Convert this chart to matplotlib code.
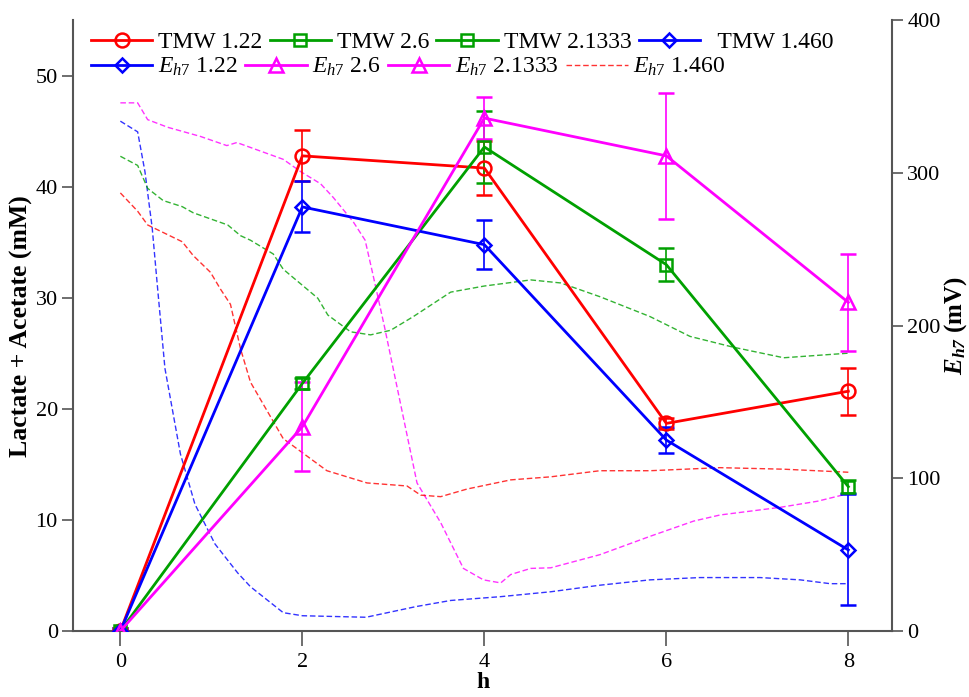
import matplotlib
matplotlib.use("Agg")
import matplotlib.pyplot as plt
from matplotlib.lines import Line2D

plt.rcParams["font.family"] = ["Liberation Serif", "DejaVu Serif"]
plt.rcParams["mathtext.fontset"] = "custom"
plt.rcParams["mathtext.rm"] = "Liberation Serif"
plt.rcParams["mathtext.it"] = "Liberation Serif:italic"
plt.rcParams["mathtext.bf"] = "Liberation Serif:bold"
plt.rcParams["mathtext.bfit"] = "Liberation Serif:italic:bold"

# sampling times (h)
hours = [0, 2, 4, 6, 8]

# lactate + acetate (mM) with error bars
red_vals = [0, 42.8, 41.7, 18.7, 21.6]
red_err = [0.3, 2.3, 2.4, 0.5, 2.1]
green_vals = [0, 22.3, 43.6, 33.0, 13.0]
green_err = [0.3, 0.5, 3.2, 1.5, 0.6]
blue_vals = [0, 38.2, 34.8, 17.2, 7.3]
blue_err = [0.3, 2.3, 2.2, 1.2, 5.0]
magenta_vals = [0, 18.4, 46.2, 42.8, 29.6]
magenta_err = [0.3, 4.0, 1.9, 5.7, 4.4]

# Eh7 (mV) continuous traces
mag_h = [0, 0.19, 0.30, 0.52, 0.88, 1.17, 1.28, 1.79, 1.98, 2.20, 2.34,
         2.56, 2.69, 2.77, 2.90, 3.04, 3.26, 3.52, 3.77, 3.99, 4.18, 4.29,
         4.51, 4.73, 5.27, 5.82, 6.30, 6.59, 7.25, 7.66, 8.0]
mag_mv = [346, 346, 335, 330, 324, 318, 320, 309, 301, 293, 284,
          268, 256, 235, 200, 160, 97, 71, 41, 33.5, 31.5, 37,
          41, 41.4, 50, 62, 72, 76, 81, 85, 90]
blue_h = [0, 0.19, 0.27, 0.35, 0.41, 0.49, 0.66, 0.82, 1.04, 1.29, 1.43,
          1.79, 2.0, 2.7, 3.25, 3.63, 4.18, 4.73, 5.27, 5.82, 6.37, 7.03,
          7.47, 7.8, 8.0]
blue_mv = [334, 327, 301, 264, 224, 172, 116, 83, 57, 38, 29,
           12, 10, 9, 16, 20, 22.5, 25.7, 30, 33.5, 35, 35,
           33.5, 31, 31]
green_h = [0, 0.19, 0.30, 0.47, 0.68, 0.80, 1.18, 1.32, 1.43, 1.68, 1.79,
           2.17, 2.28, 2.53, 2.75, 2.97, 3.22, 3.63, 4.0, 4.51, 4.84, 5.27,
           5.82, 6.26, 6.73, 7.29, 8.0]
green_mv = [311, 305, 290, 282, 278, 274, 266, 259, 256, 247, 237,
            218, 207, 196, 194, 197, 206, 222, 226, 230, 228, 219,
            206, 193, 186, 179, 182]
red_h = [0, 0.19, 0.30, 0.68, 0.80, 0.99, 1.10, 1.21, 1.32, 1.43, 1.79,
         2.27, 2.71, 3.15, 3.30, 3.52, 3.81, 4.29, 4.73, 5.27, 5.82, 6.59,
         7.29, 8.0]
red_mv = [287, 275, 266, 255, 246, 235, 224, 214, 185, 163, 126,
          105, 97, 95, 89, 88, 93, 99, 101, 105, 105, 107,
          106, 104]

row1_labels = ["TMW 1.22", "TMW 2.6", "TMW 2.1333", "  TMW 1.460"]
row2_labels = ["$E_{h7}$ 1.22", "$E_{h7}$ 2.6", "$E_{h7}$ 2.1333",
               "$E_{h7}$ 1.460"]

RED, GREEN, BLUE, MAG = "#ff0000", "#00a000", "#0000ff", "#ff00ff"
spine_col = "#555555"
dash = (0, (4, 2))

fig = plt.figure(figsize=(9.7, 6.97), dpi=100)
ax = fig.add_axes([0.0753, 0.0947, 0.8443, 0.876])
ax2 = ax.twinx()

for h, mv, c in [(mag_h, mag_mv, MAG), (blue_h, blue_mv, BLUE),
                 (green_h, green_mv, GREEN), (red_h, red_mv, RED)]:
    ax2.plot(h, mv, color=c, lw=1.0, linestyle=dash, alpha=0.8)

marker_size = {"o": 10, "s": 9, "D": 7, "^": 10.5}
series = [(red_vals, red_err, RED, "o"), (green_vals, green_err, GREEN, "s"),
          (blue_vals, blue_err, BLUE, "D"), (magenta_vals, magenta_err, MAG, "^")]
for vals, err, c, m in series:
    ax.errorbar(hours, vals, yerr=err, color=c, lw=2.0, marker=m,
                ms=marker_size[m], mfc="none", mew=1.8, ecolor=c,
                elinewidth=1.2, capsize=6, capthick=1.2, zorder=3)

ax.set_zorder(ax2.get_zorder() + 1)
ax.patch.set_visible(False)

ax.set_xlim(-0.52, 8.48)
ax.set_ylim(0, 55)
ax2.set_ylim(0, 400)
ax.set_xticks([0, 2, 4, 6, 8])
ax.set_yticks([0, 10, 20, 30, 40, 50])
ax2.set_yticks([0, 100, 200, 300, 400])

for a in (ax, ax2):
    a.spines["top"].set_visible(False)
    for s in a.spines.values():
        s.set_color(spine_col)
        s.set_linewidth(1.5)
    a.tick_params(direction="out", length=8, width=1.2, color=spine_col,
                  labelsize=16, pad=3)
ax.tick_params(axis="x", length=11, pad=5)
ax.spines["right"].set_visible(False)
ax2.spines["left"].set_visible(False)
ax2.spines["bottom"].set_visible(False)

ax.set_xlabel("h", fontsize=17, fontweight="bold", labelpad=0)
ax.set_ylabel("Lactate + Acetate (mM)", fontsize=18.5, fontweight="bold",
              labelpad=2)
ax2.set_ylabel(r"$\mathbfit{E_{h7}}$ $\mathbf{(mV)}$", fontsize=18,
               labelpad=1)


def mk(c, m=None, ls="-", lw=2.0):
    if m is None:
        return Line2D([], [], color=c, lw=lw, linestyle=ls, alpha=0.8)
    return Line2D([], [], color=c, lw=lw, marker=m, ms=marker_size[m],
                  mfc="none", mew=1.8)


row1 = [mk(RED, "o"), mk(GREEN, "s"), mk(GREEN, "s"), mk(BLUE, "D")]
row2 = [mk(BLUE, "D"), mk(MAG, "^"), mk(MAG, "^"), mk(RED, None, dash, 1.0)]

leg_kw = dict(ncol=4, loc="upper left", frameon=False, fontsize=17,
              handlelength=2.6, handletextpad=0.25, columnspacing=0.3,
              borderaxespad=0.0, borderpad=0.0)
leg1 = ax.legend(row1, row1_labels, bbox_to_anchor=(0.022, 0.982), **leg_kw)
ax.add_artist(leg1)
ax.legend(row2, row2_labels, bbox_to_anchor=(0.022, 0.942), **leg_kw)

fig.savefig("out.png", dpi=100)
